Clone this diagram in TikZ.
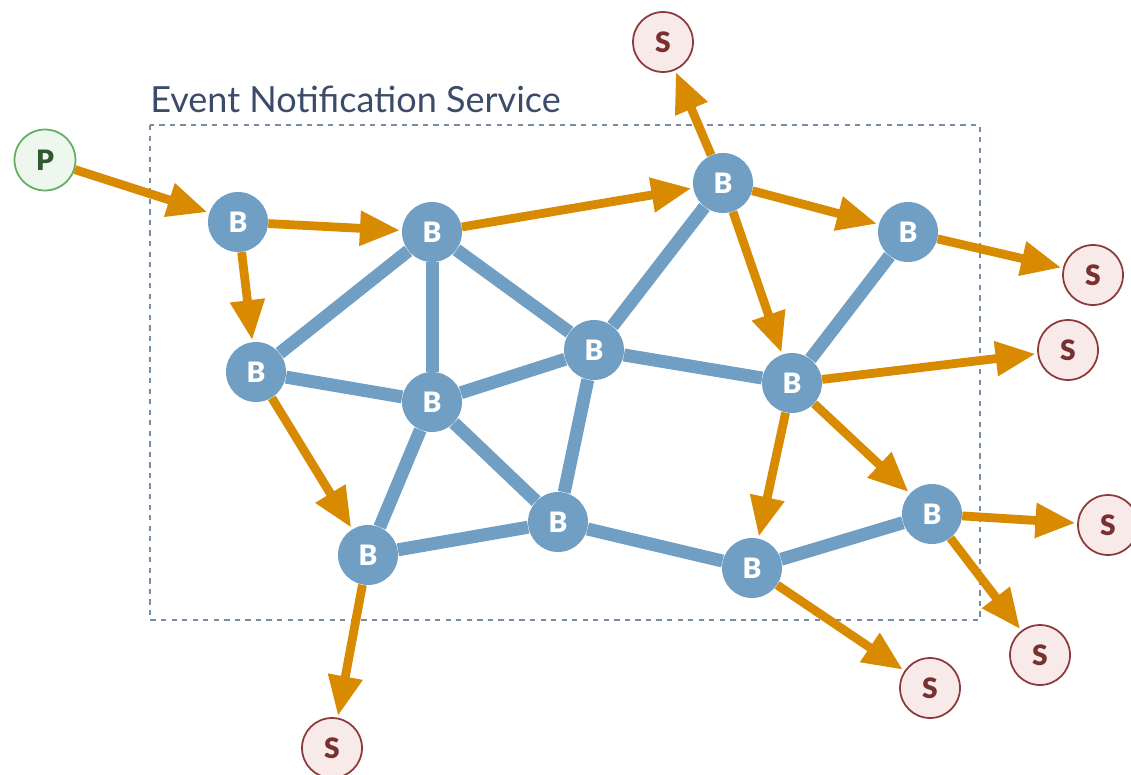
\documentclass[tikz,border=0pt]{standalone}
\usepackage{fontspec}
\setmainfont{Lato}
\newfontfamily\heavyfont{Lato Black}
\usetikzlibrary{arrows.meta}
\definecolor{brokerblue}{RGB}{113,159,196}
\definecolor{flow}{RGB}{216,138,0}
\definecolor{subred}{RGB}{140,58,58}
\definecolor{subfill}{RGB}{249,234,234}
\definecolor{pubgreen}{RGB}{96,176,96}
\definecolor{pubfill}{RGB}{238,247,238}
\definecolor{frame}{RGB}{120,140,162}
\definecolor{title}{RGB}{60,76,104}
\tikzset{
  broker/.style={circle,fill=brokerblue,minimum size=1.2cm,inner sep=0pt,
    text=white,font=\fontsize{16}{16}\heavyfont},
  sub/.style={circle,draw=subred,line width=1pt,fill=subfill,minimum size=1.2cm,
    inner sep=0pt,text=subred!85!black,font=\fontsize{16}{16}\heavyfont},
  pub/.style={circle,draw=pubgreen,line width=1pt,fill=pubfill,minimum size=1.22cm,
    inner sep=0pt,text=pubgreen!50!black,font=\fontsize{16}{16}\heavyfont},
  link/.style={brokerblue,line width=7.4pt},
  msg/.style={flow,line width=5pt,-{Triangle[length=0.8cm,width=0.66cm]},shorten >=1pt}
}
\begin{document}
\begin{tikzpicture}[x=0.02cm,y=-0.02cm]
\useasboundingbox (0,0) rectangle (1131,774);

% service boundary
\draw[frame,line width=1.2pt,dash pattern=on 3pt off 3pt] (150,125) rectangle (980,620);
\node[anchor=base west,inner sep=0pt,text=title,font=\fontsize{20.5}{20.5}\selectfont] (ens) at (150,112) {Event Notification Service};

% brokers
\node[broker] (b1) at (238,222) {B};
\node[broker] (b2) at (432,232) {B};
\node[broker] (b3) at (723,183) {B};
\node[broker] (b4) at (908,232) {B};
\node[broker] (b5) at (256,372) {B};
\node[broker] (b6) at (432,402) {B};
\node[broker] (b7) at (594,350) {B};
\node[broker] (b8) at (792,383) {B};
\node[broker] (b9) at (368,555) {B};
\node[broker] (b10) at (558,522) {B};
\node[broker] (b11) at (752,568) {B};
\node[broker] (b12) at (932,514) {B};

% publisher and subscribers
\node[pub] (p) at (45,160) {P};
\node[sub] (s1) at (663,42) {S};
\node[sub] (s2) at (1093,275) {S};
\node[sub] (s3) at (1068,350) {S};
\node[sub] (s4) at (1108,525) {S};
\node[sub] (s5) at (1040,655) {S};
\node[sub] (s6) at (930,688) {S};
\node[sub] (s7) at (332,748) {S};

% overlay links
\foreach \a/\b in {b2/b5,b2/b6,b2/b7,b5/b6,b6/b7,b6/b9,b6/b10,b7/b3,b7/b10,b7/b8,
                   b8/b4,b9/b10,b10/b11,b11/b12}
  \draw[link] (\a) -- (\b);

% notification paths
\foreach \a/\b in {p/b1,b1/b2,b1/b5,b2/b3,b3/s1,b3/b4,b3/b8,b4/s2,b5/b9,
                   b8/s3,b8/b11,b8/b12,b12/s4,b12/s5,b11/s6,b9/s7}
  \draw[msg] (\a) -- (\b);

\end{tikzpicture}
\end{document}
